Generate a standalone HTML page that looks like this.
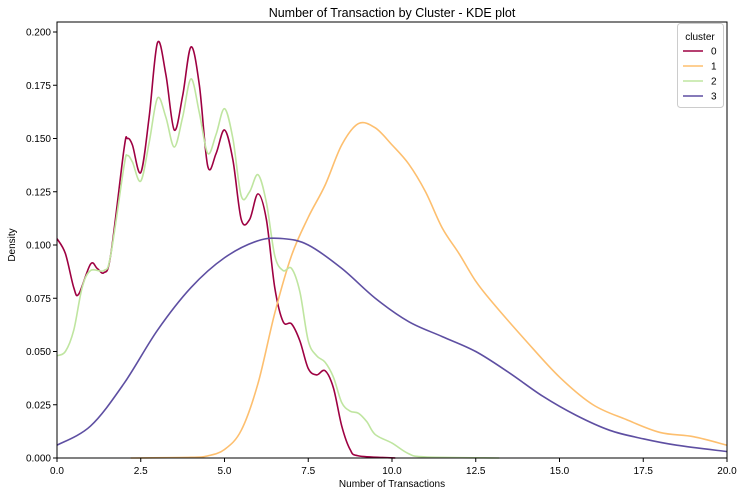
<!DOCTYPE html>
<html><head><meta charset="utf-8"><style>
body{margin:0;background:#fff;font-family:"Liberation Sans","DejaVu Sans",sans-serif}
</style></head><body>
<svg id="chart" width="744" height="496" xmlns="http://www.w3.org/2000/svg" font-family="Liberation Sans, DejaVu Sans, sans-serif">
<text x="392" y="17" text-anchor="middle" font-size="12.5" fill="#000">Number of Transaction by Cluster - KDE plot</text>
<g id="grid"></g><g id="series"></g><g id="axes"></g>
<text x="392" y="487" text-anchor="middle" font-size="10">Number of Transactions</text>
<text x="15" y="245" text-anchor="middle" font-size="10" transform="rotate(-90 15 245)">Density</text>
<g id="legend"></g>
</svg>
<script>
const xTicks=[0,2.5,5,7.5,10,12.5,15,17.5,20];
const xTickLabels=["0.0","2.5","5.0","7.5","10.0","12.5","15.0","17.5","20.0"];
const yTicks=[0,0.025,0.05,0.075,0.1,0.125,0.15,0.175,0.2];
const yTickLabels=["0.000","0.025","0.050","0.075","0.100","0.125","0.150","0.175","0.200"];
const clusters=["0","1","2","3"];
const colors=["#9e0142","#fdbf6f","#bfe5a0","#5e4fa2"];
const x0=[0,0.25,0.5,0.65,1.0,1.2,1.4,1.6,2.0,2.1,2.25,2.5,2.75,3.0,3.25,3.5,3.75,4.0,4.25,4.5,4.75,5.0,5.25,5.5,5.75,6.0,6.25,6.5,6.75,7.0,7.25,7.5,7.75,8.0,8.25,8.5,8.75,9.0,10.1];
const y0=[0.103,0.096,0.080,0.077,0.091,0.089,0.087,0.095,0.145,0.150,0.147,0.134,0.160,0.195,0.180,0.154,0.170,0.193,0.175,0.137,0.143,0.154,0.140,0.112,0.112,0.124,0.112,0.080,0.064,0.063,0.055,0.042,0.039,0.041,0.033,0.015,0.004,0.001,0];
const x1=[2.2,4,4.5,5,5.5,6,6.5,7,7.5,8,8.5,9,9.5,10,10.5,11,11.5,12,12.5,13,14,15,16,17,18,19,20];
const y1=[0,0.0003,0.001,0.004,0.013,0.035,0.068,0.095,0.113,0.128,0.147,0.157,0.155,0.147,0.138,0.125,0.108,0.096,0.083,0.073,0.055,0.038,0.025,0.018,0.012,0.010,0.006];
const x2=[0,0.25,0.5,0.75,1.0,1.4,1.6,2.0,2.1,2.25,2.5,2.75,3.0,3.25,3.5,3.75,4.0,4.25,4.5,4.75,5.0,5.25,5.5,5.75,6.0,6.25,6.5,6.75,7.0,7.25,7.5,7.75,8.0,8.25,8.5,8.75,9.0,9.25,9.5,10.0,10.5,11,13.2];
const y2=[0.048,0.050,0.060,0.080,0.088,0.088,0.095,0.137,0.142,0.139,0.130,0.148,0.169,0.160,0.146,0.160,0.178,0.162,0.143,0.152,0.164,0.150,0.123,0.125,0.133,0.120,0.095,0.088,0.089,0.078,0.055,0.048,0.045,0.038,0.026,0.022,0.021,0.017,0.011,0.007,0.002,0.0005,0];
const x3=[0,1,2,3,4,5,6,6.75,7.5,8.5,9.5,10.5,11.5,12.5,13.5,14.5,15.5,16.5,17.5,18.5,20];
const y3=[0.006,0.015,0.035,0.060,0.080,0.094,0.102,0.103,0.100,0.089,0.075,0.064,0.057,0.050,0.040,0.029,0.020,0.013,0.009,0.006,0.003];
const seriesX=[x0,x1,x2,x3], seriesY=[y0,y1,y2,y3];

const L=57,R=727,T=22,B=458,NS="http://www.w3.org/2000/svg";
const sx=v=>L+(v-0)/20*(R-L);
const sy=v=>B-v/0.2*(B-32);
function mk(t,a,p){const e=document.createElementNS(NS,t);for(const k in a)e.setAttribute(k,a[k]);p.appendChild(e);return e;}
function pathD(xs,ys){
  const p=xs.map((x,i)=>[sx(x),sy(ys[i])]);
  let d="M"+p[0][0]+","+p[0][1];
  for(let i=0;i<p.length-1;i++){
    const a=p[i-1]||p[i],b=p[i],c=p[i+1],e=p[i+2]||c;
    const c1=[b[0]+(c[0]-a[0])/6,b[1]+(c[1]-a[1])/6],c2=[c[0]-(e[0]-b[0])/6,c[1]-(e[1]-b[1])/6];
    d+=` C${c1[0]},${Math.min(B,c1[1])} ${c2[0]},${Math.min(B,c2[1])} ${c[0]},${c[1]}`;
  }
  return d;
}
const sg=document.getElementById("series");
seriesX.forEach((xs,i)=>{
  const el=mk("path",{d:pathD(xs,seriesY[i]),fill:"none",stroke:colors[i],"stroke-width":1.6},sg);
  
  
});
const ax=document.getElementById("axes");
const frame=mk("rect",{x:L,y:T,width:R-L,height:B-T,fill:"none",stroke:"#000","stroke-width":1},ax);


xTicks.forEach((v,i)=>{
  mk("line",{x1:sx(v),x2:sx(v),y1:B,y2:B+4,stroke:"#000"},ax);
  const t=mk("text",{x:sx(v),y:B+16,"text-anchor":"middle","font-size":10},ax);t.textContent=xTickLabels[i];
  
  
});
yTicks.forEach((v,i)=>{
  mk("line",{x1:L-4,x2:L,y1:sy(v),y2:sy(v),stroke:"#000"},ax);
  const t=mk("text",{x:L-6,y:sy(v)+3.5,"text-anchor":"end","font-size":10},ax);t.textContent=yTickLabels[i];
  
  
});
const lg=document.getElementById("legend");
const box=mk("rect",{x:677.5,y:23.5,width:46,height:84,rx:3,fill:"#fff",stroke:"#ccc"},lg);


const lt=mk("text",{x:700,y:40,"text-anchor":"middle","font-size":10},lg);lt.textContent="cluster";


clusters.forEach((c,i)=>{
  const y=51+i*15;
  const g=mk("g",{},lg);
  
  
  mk("line",{x1:683,x2:703,y1:y,y2:y,stroke:colors[i],"stroke-width":1.6},g);
  const t=mk("text",{x:711,y:y+3.5,"font-size":10},g);t.textContent=c;
});
</script>
</body></html>
